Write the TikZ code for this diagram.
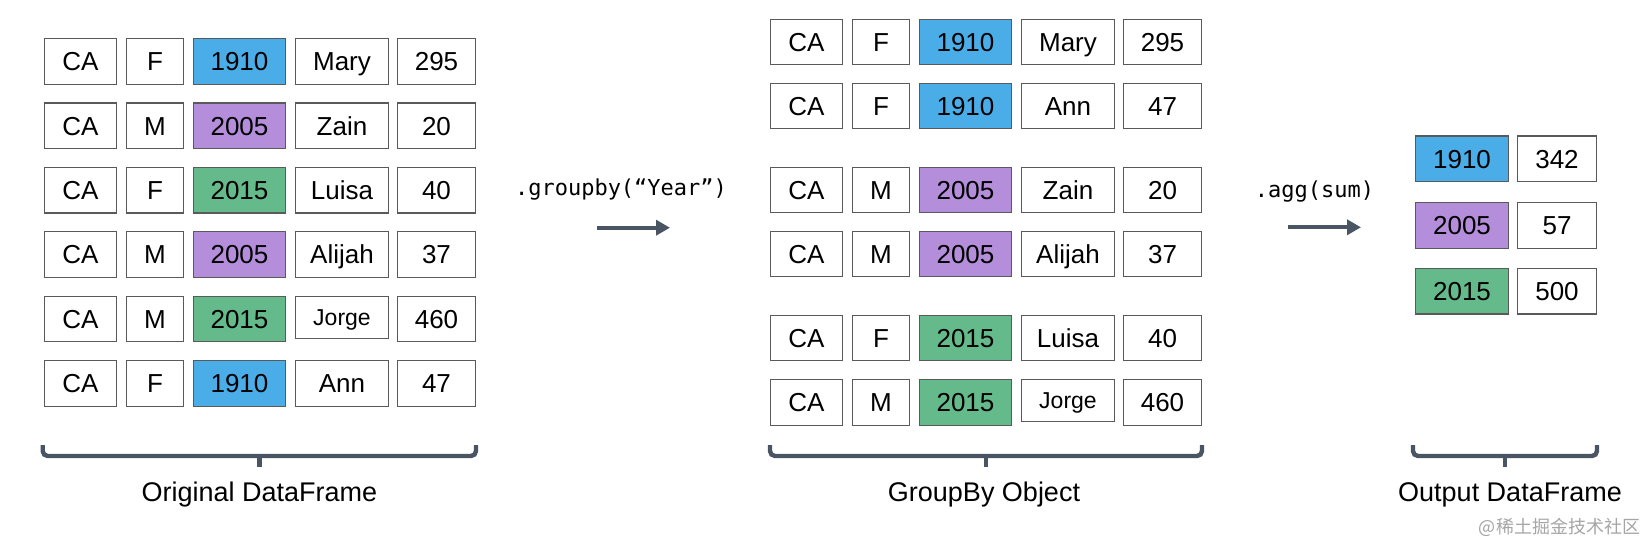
\documentclass[tikz,border=0pt]{standalone}
\usepackage{fontspec}
\setmainfont{Liberation Sans}
\newfontfamily\codefont{DejaVu Sans Mono}
\newfontfamily\cjkfont{Noto Sans CJK SC}
\usetikzlibrary{arrows.meta}
\definecolor{cblue}{HTML}{4BADE8}
\definecolor{cpurple}{HTML}{B58EDB}
\definecolor{cgreen}{HTML}{65BA8B}
\definecolor{cborder}{HTML}{5A5A5A}
\definecolor{cslate}{HTML}{4A5563}
\tikzset{
 cell/.style={draw=cborder, line width=0.6pt, inner sep=0pt, minimum height=22.8pt, text height=9.3pt, text depth=0pt, font=\fontsize{13}{15}\selectfont, text=black},
 wA/.style={minimum width=36.2pt},
 wB/.style={minimum width=28.7pt},
 wC/.style={minimum width=46.2pt},
 wD/.style={minimum width=46.7pt},
 wE/.style={minimum width=39.2pt},
 plain/.style={},
 smallcell/.style={font=\fontsize{11.5}{13}\selectfont, text height=8.2pt, minimum height=21pt, yshift=0.9pt},
 arr/.style={draw=cslate, line width=2pt, -{Triangle[length=7pt,width=7.5pt]}},
 brace/.style={draw=cslate, line width=2.2pt, rounded corners=2.5pt},
 label/.style={font=\fontsize{13.5}{16}\selectfont, text=black},
 code/.style={font=\codefont\fontsize{11}{13}\selectfont, text=black},
}
\newcommand\datarow[9]{%
 \node[cell,wA] (#1a) at ({#2+80.5},#3) {CA};
 \node[cell,wB] (#1b) at ({#2+155},#3) {#4};
 \node[cell,wC,fill=#6] (#1c) at ({#2+239.5},#3) {#5};
 \node[cell,wD,#9] (#1d) at ({#2+342},#3) {#7};
 \node[cell,wE] (#1e) at ({#2+436.5},#3) {#8};
}
\begin{document}
\begin{tikzpicture}[x=0.5pt,y=-0.5pt]
\useasboundingbox[fill=white] (0,0) rectangle (1646,542);
% Original DataFrame
\datarow{La}{0}{61.3}{F}{1910}{cblue}{Mary}{295}{plain}
\datarow{Lb}{0}{125.8}{M}{2005}{cpurple}{Zain}{20}{plain}
\datarow{Lc}{0}{190.2}{F}{2015}{cgreen}{Luisa}{40}{plain}
\datarow{Ld}{0}{254.6}{M}{2005}{cpurple}{Alijah}{37}{plain}
\datarow{Le}{0}{319}{M}{2015}{cgreen}{Jorge}{460}{smallcell}
\datarow{Lf}{0}{383.4}{F}{1910}{cblue}{Ann}{47}{plain}
% GroupBy Object
\datarow{Ma}{726}{42}{F}{1910}{cblue}{Mary}{295}{plain}
\datarow{Mb}{726}{106}{F}{1910}{cblue}{Ann}{47}{plain}
\datarow{Mc}{726}{190}{M}{2005}{cpurple}{Zain}{20}{plain}
\datarow{Md}{726}{254}{M}{2005}{cpurple}{Alijah}{37}{plain}
\datarow{Me}{726}{338}{F}{2015}{cgreen}{Luisa}{40}{plain}
\datarow{Mf}{726}{402.5}{M}{2015}{cgreen}{Jorge}{460}{smallcell}
% Output DataFrame
\node[cell,wC,fill=cblue] (Oac) at (1462,158.8) {1910};
\node[cell,wE] (Oae) at (1557,158.8) {342};
\node[cell,wC,fill=cpurple] (Obc) at (1462,225.5) {2005};
\node[cell,wE] (Obe) at (1557,225.5) {57};
\node[cell,wC,fill=cgreen] (Occ) at (1462,291.2) {2015};
\node[cell,wE] (Oce) at (1557,291.2) {500};
% arrows and code labels
\node[code] (gb) at (621,190) {.groupby(“Year”)};
\coordinate (g1) at (597,227.7);
\coordinate (g2) at (670,227.7);
\draw[arr] (g1) -- (g2);
\node[code] (ag) at (1314.5,192) {.agg(sum)};
\coordinate (a1) at (1288,227.3);
\coordinate (a2) at (1361,227.3);
\draw[arr] (a1) -- (a2);
% braces
\coordinate (b1l) at (42.7,445);
\coordinate (b1r) at (476,445);
\coordinate (b1m) at (259.4,456);
\coordinate (b1t) at (259.4,467);
\draw[brace] (b1l) |- (b1m) -| (b1r);
\draw[draw=cslate, line width=2.2pt] (b1m) -- (b1t);
\coordinate (b2l) at (770,445);
\coordinate (b2r) at (1202,445);
\coordinate (b2m) at (986,456);
\coordinate (b2t) at (986,467);
\draw[brace] (b2l) |- (b2m) -| (b2r);
\draw[draw=cslate, line width=2.2pt] (b2m) -- (b2t);
\coordinate (b3l) at (1413,445);
\coordinate (b3r) at (1597,445);
\coordinate (b3m) at (1505,456);
\coordinate (b3t) at (1505,467);
\draw[brace] (b3l) |- (b3m) -| (b3r);
\draw[draw=cslate, line width=2.2pt] (b3m) -- (b3t);
% labels
\node[label] (l1) at (259.4,495) {Original DataFrame};
\node[label] (l2) at (984,495) {GroupBy Object};
\node[label] (l3) at (1510,495) {Output DataFrame};
\node[font=\cjkfont\fontsize{9}{11}\selectfont, text=black!35] (wm) at (1559.5,527) {@稀土掘金技术社区};
\end{tikzpicture}
\end{document}
